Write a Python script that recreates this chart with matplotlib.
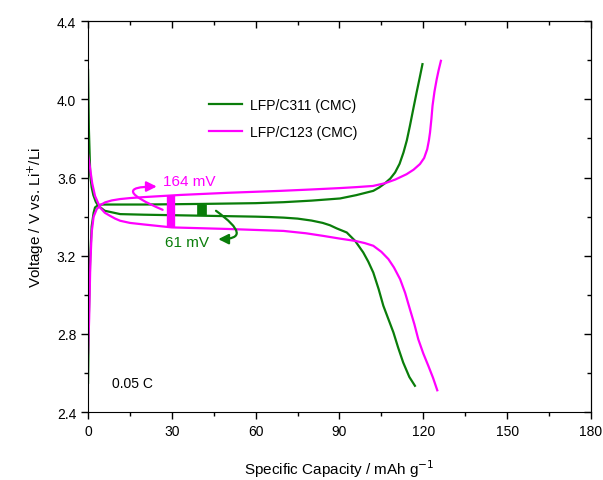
import matplotlib.pyplot as plt

plt.rcParams['font.family'] = ['Liberation Sans', 'DejaVu Sans']

# LFP/C311 (CMC) - charge and discharge
c311_chg_x = [0, 0.3, 0.8, 1.3, 2.0, 2.5, 3.5, 5, 10, 20, 40, 60, 70, 80, 90.2, 96,
              102.1, 104.3, 106.3, 108.2, 109.9, 111.5, 112.9, 114.1, 115.2, 116.4,
              117.6, 118.7, 119.7]
c311_chg_v = [2.55, 2.9, 3.2, 3.35, 3.42, 3.447, 3.458, 3.462, 3.462, 3.462, 3.465,
              3.469, 3.474, 3.482, 3.493, 3.51, 3.532, 3.55, 3.571, 3.595, 3.626, 3.67,
              3.728, 3.79, 3.864, 3.95, 4.035, 4.11, 4.18]
c311_dis_x = [0, 0.3, 0.8, 1.3, 1.9, 2.8, 3.7, 6, 11.5, 20, 40, 60, 65, 70, 75, 80,
              84, 86.6, 89, 92.6, 95.6, 98.5, 100.3, 102.1, 104, 105.7, 107.5, 109.3,
              111, 112.8, 115, 117]
c311_dis_v = [4.15, 3.85, 3.61, 3.55, 3.51, 3.475, 3.455, 3.43, 3.413, 3.41, 3.405,
              3.40, 3.398, 3.395, 3.39, 3.38, 3.368, 3.356, 3.34, 3.319, 3.276, 3.217,
              3.17, 3.114, 3.03, 2.944, 2.876, 2.808, 2.73, 2.654, 2.58, 2.535]

# LFP/C123 (CMC) - charge and discharge
c123_chg_x = [0, 0.4, 0.8, 1.3, 2.0, 3.1, 4.5, 6.1, 8.5, 11.5, 15, 20, 33, 50, 69,
              80, 90, 96, 102, 106.3, 110, 114, 116.5, 118.8, 120.3, 121.4, 122.0,
              122.4, 122.9, 123.3, 124.0, 124.8, 125.5, 126.3]
c123_chg_v = [2.70, 2.88, 3.15, 3.32, 3.40, 3.438, 3.46, 3.473, 3.483, 3.49, 3.495,
              3.50, 3.511, 3.522, 3.532, 3.539, 3.546, 3.551, 3.557, 3.571, 3.59,
              3.617, 3.64, 3.669, 3.70, 3.745, 3.79, 3.83, 3.90, 3.967, 4.04, 4.103,
              4.15, 4.197]
c123_dis_x = [0, 0.3, 0.7, 1.5, 2.5, 4.3, 6, 7.9, 9.7, 11.5, 15, 20, 30, 50, 70, 78,
              84, 90, 95.6, 99, 102.1, 105, 107.5, 109.5, 111.7, 113.5, 115.2, 116.8,
              118.2, 120, 121.8, 123.5, 125]
c123_dis_v = [3.72, 3.69, 3.65, 3.57, 3.506, 3.447, 3.42, 3.404, 3.39, 3.379, 3.368,
              3.36, 3.345, 3.337, 3.327, 3.315, 3.302, 3.288, 3.276, 3.265, 3.251,
              3.22, 3.183, 3.14, 3.08, 3.01, 2.927, 2.85, 2.773, 2.70, 2.637, 2.575,
              2.512]

# polarization bars (x, bottom, top)
bar_c123 = [29.6, 3.345, 3.511]
bar_c311 = [40.7, 3.404, 3.458]

green = '#0a7d0a'
magenta = '#ff00ff'

fig, ax = plt.subplots(figsize=(6.03, 4.81), dpi=100)
fig.subplots_adjust(left=0.146, right=0.980, top=0.954, bottom=0.141)

ax.plot(c311_chg_x, c311_chg_v, color=green, lw=1.6, label='LFP/C311 (CMC)')
ax.plot(c311_dis_x, c311_dis_v, color=green, lw=1.6)
ax.plot(c123_chg_x, c123_chg_v, color=magenta, lw=1.6, label='LFP/C123 (CMC)')
ax.plot(c123_dis_x, c123_dis_v, color=magenta, lw=1.6)

ax.vlines(bar_c123[0], bar_c123[1], bar_c123[2], color=magenta, lw=6)
ax.vlines(bar_c311[0], bar_c311[1], bar_c311[2], color=green, lw=7)

# curved arrows
ax.annotate('', xy=(24.6, 3.554), xytext=(26.7, 3.435),
            arrowprops=dict(arrowstyle='-|>,head_length=0.6,head_width=0.3',
                            color=magenta, lw=1.6, shrinkA=0, shrinkB=0,
                            connectionstyle='angle3,angleA=157,angleB=0'))
ax.annotate('', xy=(46.6, 3.285), xytext=(45.8, 3.430),
            arrowprops=dict(arrowstyle='-|>,head_length=0.6,head_width=0.3',
                            color=green, lw=1.6, shrinkA=0, shrinkB=0,
                            connectionstyle='angle3,angleA=-36,angleB=0'))

ax.text(26.8, 3.583, '164 mV', color=magenta, fontsize=11, va='center', ha='left')
ax.text(27.6, 3.27, '61 mV', color=green, fontsize=11, va='center', ha='left')
ax.text(8.6, 2.548, '0.05 C', fontsize=10, va='center', ha='left')

ax.set_xlim(0, 180)
ax.set_ylim(2.4, 4.4)
ax.set_xticks(range(0, 181, 30))
ax.set_xticks(range(15, 181, 30), minor=True)
ax.set_yticks([2.4, 2.8, 3.2, 3.6, 4.0, 4.4])
ax.set_yticks([2.6, 3.0, 3.4, 3.8, 4.2], minor=True)
ax.set_yticklabels(['2.4', '2.8', '3.2', '3.6', '4.0', '4.4'])
ax.tick_params(which='both', direction='out', labelsize=10, width=1)
ax.tick_params(which='major', length=5)
ax.tick_params(which='minor', length=3)

# mirrored ticks on top/right pointing inward
sec_x = ax.secondary_xaxis('top')
sec_x.set_xticks(range(0, 181, 30))
sec_x.set_xticks(range(15, 181, 30), minor=True)
sec_x.tick_params(which='both', direction='in', labeltop=False, width=1)
sec_x.tick_params(which='major', length=5)
sec_x.tick_params(which='minor', length=3)
sec_y = ax.secondary_yaxis('right')
sec_y.set_yticks([2.4, 2.8, 3.2, 3.6, 4.0, 4.4])
sec_y.set_yticks([2.6, 3.0, 3.4, 3.8, 4.2], minor=True)
sec_y.tick_params(which='both', direction='in', labelright=False, width=1)
sec_y.tick_params(which='major', length=5)
sec_y.tick_params(which='minor', length=3)

ax.set_xlabel('Specific Capacity / mAh g$^{-1}$', fontsize=11, labelpad=14)
ax.set_ylabel('Voltage / V vs. Li$^{+}$/Li', fontsize=11, labelpad=8)

ax.legend(loc='upper left', bbox_to_anchor=(0.215, 0.835), frameon=False,
          fontsize=10, handlelength=2.4, handletextpad=0.6, labelspacing=0.9)

plt.savefig('out.png', dpi=100)
